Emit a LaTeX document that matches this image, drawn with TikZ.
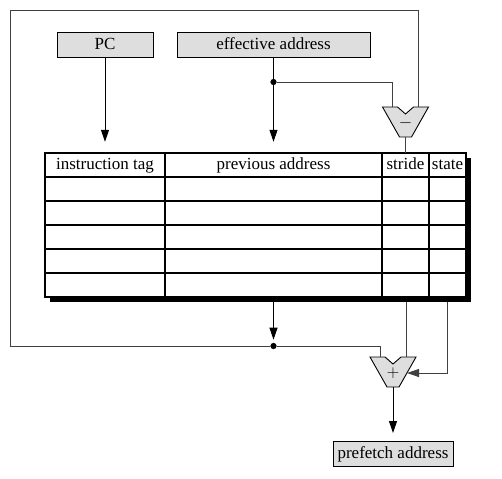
\documentclass[tikz,border=0pt]{standalone}
\usepackage{fontspec}
\setmainfont{Liberation Serif}
\usetikzlibrary{arrows.meta}
\definecolor{boxgray}{gray}{0.87}
\tikzset{
    dot/.style={circle, fill, inner sep=2.2pt}, % split point
    gray box/.style={draw, fill=boxgray, line width=1pt, inner sep=0pt, minimum height=25pt, text height=12pt, text depth=3.5pt},
    head/.style={inner sep=0pt, minimum height=24pt, text height=12pt, text depth=3.5pt},
    wire/.style={black!75, line width=0.8pt},
    tip/.style={-{Triangle[length=12pt, width=8pt]}},
    arr/.style={tip, line width=1pt},
    pics/alu/.style={code={
        \draw[fill=boxgray, line width=0.9pt] (-23,0) -- (-8,0) -- (0,7) -- (8,0) -- (23,0) -- (6,30) -- (-6,30) -- cycle;
        \node[font=\fontsize{16}{16}\selectfont, inner sep=0pt] at (0,16) {$#1$};
        \coordinate (-a) at (-13,0); \coordinate (-b) at (13,0);
        \coordinate (-c) at (14,16); \coordinate (-out) at (0,30);
    }}
}
\begin{document}
\begin{tikzpicture}[x=1pt, y=-1pt, font=\fontsize{17}{19}\selectfont]
    \useasboundingbox (0,0) rectangle (502,478);

    % table with its shadow
    \fill (50,158) rectangle (471,302);
    \draw[fill=white, line width=1.2pt] (45,153) rectangle (466,297);
    \foreach \y in {177,201,...,273} {\draw[line width=1.2pt] (45,\y) -- (466,\y);}
    \foreach \x in {165,382,429} {\draw[line width=1.2pt] (\x,153) -- (\x,297);}

    \node[head, minimum width=120pt] (tag) at (105,165) {instruction tag};
    \node[head, minimum width=217pt] (prev) at (273.5,165) {previous address};
    \node[head, minimum width=47pt] (stride) at (405.5,165) {stride};
    \node[head, minimum width=37pt] (state) at (447.5,165) {state};

    \node[gray box, minimum width=96pt] (pc) at (105,45.5) {PC};
    \node[gray box, minimum width=193pt] (ea) at (273.5,45.5) {effective address};
    \node[gray box, minimum width=120pt] (pf) at (393,454) {prefetch address};

    \pic (sub) at (405.5,107) {alu=-};
    \pic (add) at (393,357) {alu=+};

    \coordinate (lvl1) at (0,82);
    \coordinate (lvl2) at (0,346);
    \coordinate (top left) at (10,10);
    \coordinate (tbl bot) at (0,302);

    \node[dot] (split1) at (ea |- lvl1) {};
    \node[dot] (split2) at (prev |- lvl2) {};

    \draw[arr, shorten >=11pt] (pc) -- (tag);
    \draw[arr, shorten >=11pt] (ea) -- (prev);
    \draw[wire] (split1) -| (sub-a);
    \draw[wire] (sub-b) |- (top left) |- (split2) -| (add-a);
    \draw[wire] (sub-out) -- (sub-out |- stride.north);

    \draw[arr, shorten >=3pt] (prev |- tbl bot) -- (split2);
    \draw[wire] (add-b |- tbl bot) -- (add-b);
    \draw[wire, tip] (state |- tbl bot) |- (add-c);
    \draw[arr, shorten >=8pt] (add-out) -- (pf);
\end{tikzpicture}
\end{document}
